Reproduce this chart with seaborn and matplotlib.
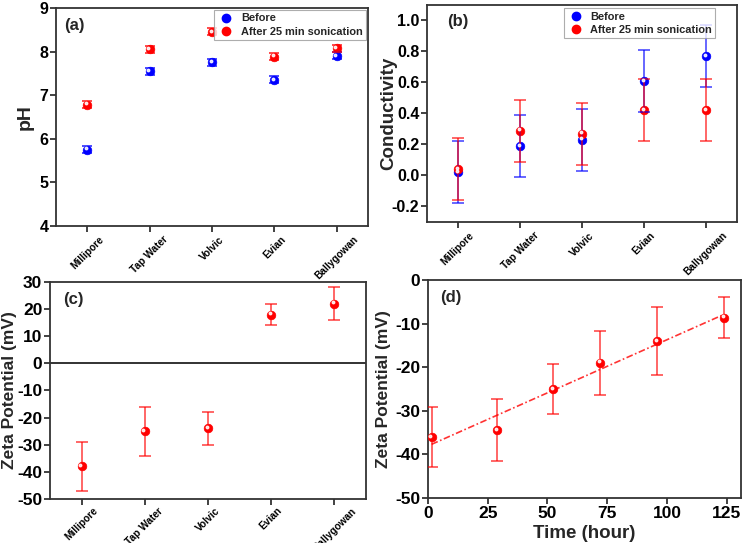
import numpy as np
import pandas as pd
import matplotlib
matplotlib.use("Agg")
import matplotlib.pyplot as plt
import matplotlib.transforms as mtransforms
import seaborn as sns

# ---------------- data ----------------
waters = ["Millipore", "Tap Water", "Volvic", "Evian", "Ballygowan"]

ph_before = [5.75, 7.55, 7.75, 7.35, 7.90]
ph_before_err = [0.08, 0.08, 0.08, 0.08, 0.08]
ph_after = [6.78, 8.05, 8.45, 7.88, 8.08]
ph_after_err = [0.08, 0.08, 0.08, 0.08, 0.08]

cond_before = [0.02, 0.19, 0.23, 0.61, 0.77]
cond_before_err = [0.20, 0.20, 0.20, 0.20, 0.20]
cond_after = [0.04, 0.29, 0.27, 0.42, 0.42]
cond_after_err = [0.20, 0.20, 0.20, 0.20, 0.20]

zeta_water = [-38, -25, -24, 18, 22]
zeta_water_err = [9, 9, 6, 4, 6]

time_hours = [1.5, 29, 52.5, 72, 96, 124]
zeta_time = [-36.0, -34.4, -25.0, -19.0, -14.0, -8.6]
zeta_time_err = [6.8, 7.2, 5.8, 7.3, 7.7, 4.6]

series_labels = ["Before", "After 25 min sonication"]
BLUE = "#0000ff"
RED = "#ff0000"

# ---------------- style ----------------
sns.set_theme(style="ticks")
plt.rcParams["font.family"] = ["Liberation Sans", "DejaVu Sans"]
plt.rcParams["font.weight"] = "bold"
plt.rcParams["axes.labelweight"] = "bold"
plt.rcParams["axes.unicode_minus"] = False
plt.rcParams["axes.edgecolor"] = "#333333"
plt.rcParams["axes.linewidth"] = 1.3
plt.rcParams["xtick.major.width"] = 1.3
plt.rcParams["ytick.major.width"] = 1.3
plt.rcParams["xtick.major.size"] = 4
plt.rcParams["ytick.major.size"] = 4
plt.rcParams["xtick.color"] = "#333333"
plt.rcParams["ytick.color"] = "#333333"
plt.rcParams["xtick.labelcolor"] = "black"
plt.rcParams["ytick.labelcolor"] = "black"

fig = plt.figure(figsize=(7.5, 5.43), dpi=100)
ax_a = fig.add_axes([0.0747, 0.5838, 0.4160, 0.4015])
ax_b = fig.add_axes([0.5693, 0.5912, 0.4134, 0.3996])
ax_c = fig.add_axes([0.0667, 0.0810, 0.4213, 0.3997])
ax_d = fig.add_axes([0.5707, 0.0829, 0.4173, 0.4014])

pos = np.arange(1, len(waters) + 1)
MS = 6.2


def highlight(ax, x, y):
    tr = mtransforms.offset_copy(ax.transData, fig=fig, x=-1.0, y=1.0, units="points")
    ax.plot(x, y, "o", ms=1.8, color="white", alpha=0.85, transform=tr,
            zorder=6, linestyle="none")


def spheres(ax, x, y, color, err=None, ealpha=0.6, cap=4.5):
    df = pd.DataFrame({"x": x, "y": y})
    sns.scatterplot(data=df, x="x", y="y", ax=ax, color=color, s=MS ** 2,
                    edgecolor=color, linewidth=0.5, zorder=4, legend=False)
    highlight(ax, x, y)
    if err is not None:
        ax.errorbar(x, y, yerr=err, fmt="none", ecolor=color, alpha=ealpha,
                    elinewidth=1.4, capsize=cap, capthick=1.4, zorder=5)


def cat_axis(ax):
    ax.set_xlim(0.5, 5.5)
    ax.set_xticks(pos)
    ax.set_xticklabels(waters, rotation=45, ha="center",
                       fontsize=7.3, fontweight="bold")
    ax.set_xlabel("")


def legend(ax, **kw):
    h = []
    for c, lab in zip([BLUE, RED], series_labels):
        h.append(plt.Line2D([], [], marker="o", color=c, ls="none", ms=6, label=lab))
    lg = ax.legend(handles=h, frameon=True, fancybox=False,
                   edgecolor="#999999", borderpad=0.3, labelspacing=0.3,
                   handletextpad=0.6, handlelength=1.5, borderaxespad=0.2,
                   prop={"weight": "bold", "size": 7.9}, **kw)
    lg.get_frame().set_linewidth(0.8)


def ylab(ax, text, size, xcoord):
    ax.set_ylabel(text, fontsize=size, va="center")
    ax.yaxis.set_label_coords(xcoord, 0.5)


# (a) pH
spheres(ax_a, pos, ph_before, BLUE, err=ph_before_err, ealpha=0.7, cap=3.5)
spheres(ax_a, pos, ph_after, RED, err=ph_after_err, ealpha=0.7, cap=3.5)
ax_a.set_ylim(4, 9)
ax_a.set_yticks([4, 5, 6, 7, 8, 9])
cat_axis(ax_a)
ylab(ax_a, "pH", 14, -0.10)
legend(ax_a, loc="upper right")
ax_a.text(0.025, 0.92, "(a)", transform=ax_a.transAxes, fontsize=12,
          fontweight="bold", va="center")

# (b) conductivity
spheres(ax_b, pos, cond_before, BLUE, err=cond_before_err)
spheres(ax_b, pos, cond_after, RED, err=cond_after_err)
ax_b.set_ylim(-0.3, 1.1)
ax_b.set_yticks([-0.2, 0.0, 0.2, 0.4, 0.6, 0.8, 1.0])
ax_b.set_yticklabels(["-0.2", "0.0", "0.2", "0.4", "0.6", "0.8", "1.0"])
cat_axis(ax_b)
ylab(ax_b, "Conductivity", 13.5, -0.123)
legend(ax_b, loc="upper left", bbox_to_anchor=(0.435, 0.995))
ax_b.text(0.065, 0.925, "(b)", transform=ax_b.transAxes, fontsize=12,
          fontweight="bold", va="center")

# (c) zeta potential per water
spheres(ax_c, pos, zeta_water, RED, err=zeta_water_err)
ax_c.axhline(0, color="#222222", lw=1.3, zorder=1)
ax_c.set_ylim(-50, 30)
ax_c.set_yticks(np.arange(-50, 31, 10))
cat_axis(ax_c)
ylab(ax_c, "Zeta Potential (mV)", 12.5, -0.128)
ax_c.text(0.04, 0.917, "(c)", transform=ax_c.transAxes, fontsize=12,
          fontweight="bold", va="center")

# (d) zeta potential vs time
coef = np.polyfit(time_hours, zeta_time, 1)
xfit = np.array([time_hours[0], time_hours[-1]])
ax_d.plot(xfit, np.polyval(coef, xfit), color=RED, ls=(0, (4, 1.5, 1, 1.5)),
          lw=1.2, alpha=0.8, zorder=3)
spheres(ax_d, time_hours, zeta_time, RED, err=zeta_time_err)
ax_d.set_xlim(0, 131)
ax_d.set_xticks([0, 25, 50, 75, 100, 125])
ax_d.set_ylim(-50, 0)
ax_d.set_yticks(np.arange(-50, 1, 10))
ax_d.set_xlabel("Time (hour)", fontsize=13.5, labelpad=2.5)
ylab(ax_d, "Zeta Potential (mV)", 12.5, -0.142)
ax_d.text(0.04, 0.92, "(d)", transform=ax_d.transAxes, fontsize=12,
          fontweight="bold", va="center")

for ax, fs in ((ax_a, 11.5), (ax_b, 11.5), (ax_c, 12.5), (ax_d, 12.5)):
    for lbl in ax.get_yticklabels():
        lbl.set_fontsize(fs)
        lbl.set_fontweight("bold")
    ax.tick_params(axis="y", pad=1.5)
    ax.tick_params(axis="x", pad=2)
ax_c.tick_params(axis="x", pad=0.8)
for lbl in ax_d.get_xticklabels():
    lbl.set_fontsize(12.5)
    lbl.set_fontweight("bold")

fig.savefig("out.png", dpi=100)
